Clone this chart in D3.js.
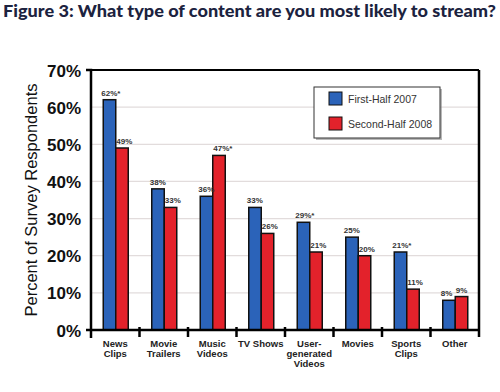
<!DOCTYPE html>
<html>
<head>
<meta charset="utf-8">
<script src="https://cdn.jsdelivr.net/npm/d3@7"></script>
<style>
  body { margin: 0; background: #fff; }
  svg { display: block; }
</style>
</head>
<body>
<div class="plot"></div>
<script>
// data
const categories = [["News", "Clips"], ["Movie", "Trailers"], ["Music", "Videos"], ["TV Shows"],
                    ["User-", "generated", "Videos"], ["Movies"], ["Sports", "Clips"], ["Other"]]
const series = ["First-Half 2007", "Second-Half 2008"]
const firstHalf2007 = [62, 38, 36, 33, 29, 25, 21, 8]
const secondHalf2008 = [49, 33, 47, 26, 21, 20, 11, 9]
const labels2007 = ["62%*", "38%", "36%", "33%", "29%*", "25%", "21%*", "8%"]
const labels2008 = ["49%", "33%", "47%*", "26%", "21%", "20%", "11%", "9%"]
const yTicks = [0, 10, 20, 30, 40, 50, 60, 70]

const W = 500, H = 392
let margin = {top: 70, right: 21, bottom: 62, left: 91},
    width = W - margin.left - margin.right,
    height = H - margin.top - margin.bottom

let colors = ["#2b63b9", "#e3222b"]

let svg = d3.select(".plot").append("svg")
  .attr("width", W)
  .attr("height", H)

// title
svg.append("text")
  .attr("x", 3)
  .attr("y", 17)
  .attr("textLength", 493)
  .attr("lengthAdjust", "spacingAndGlyphs")
  .style("font-family", "Lato, 'Open Sans', sans-serif")
  .style("font-weight", "900")
  .style("font-size", "17px")
  .style("fill", "#1c2340")
  .text("Figure 3: What type of content are you most likely to stream?")

let g = svg.append("g")
  .attr("transform", "translate(" + margin.left + "," + margin.top + ")")

let idx = d3.range(categories.length)
let xScale = d3.scaleBand().domain(idx).range([0, width])
let xInner = d3.scaleBand().domain([0, 1]).range([0, 25])
let yScale = d3.scaleLinear().domain([0, 70]).range([height, 0])

// gridlines
g.append("g")
  .selectAll("line")
  .data(yTicks.slice(1, -1))
  .join("line")
  .attr("x1", 0)
  .attr("x2", width)
  .attr("y1", d => yScale(d))
  .attr("y2", d => yScale(d))
  .style("stroke", "#e2dcdc")
  .style("stroke-width", 1.2)

// frame top & right
g.append("line")
  .attr("x1", 0).attr("x2", width).attr("y1", 0).attr("y2", 0)
  .style("stroke", "#000").style("stroke-width", 2)
g.append("line")
  .attr("x1", width).attr("x2", width).attr("y1", 0).attr("y2", height + 7)
  .style("stroke", "#000").style("stroke-width", 2.5)

// bars
let groups = g.selectAll(".grp")
  .data(idx)
  .join("g")
  .attr("class", "grp")
  .attr("transform", i => "translate(" + (xScale(i) + xScale.bandwidth() / 2 - 12) + ",0)")

let seriesData = [firstHalf2007, secondHalf2008]
let seriesLabels = [labels2007, labels2008]
;[0, 1].forEach(s => {
  groups.append("rect")
    .attr("x", xInner(s))
    .attr("y", i => yScale(seriesData[s][i]))
    .attr("width", xInner.bandwidth())
    .attr("height", i => height - yScale(seriesData[s][i]))
    .style("fill", colors[s])
    .style("stroke", "#111")
    .style("stroke-width", 1.5)
})
;[0, 1].forEach(s => {
  groups.append("text")
    .attr("x", xInner(s) + (s === 0 ? -2 : 0.5))
    .attr("y", i => yScale(seriesData[s][i]) - 4)
    .attr("text-anchor", "start")
    .style("font-family", "Arial, 'Liberation Sans', sans-serif")
    .style("font-weight", "bold")
    .style("font-size", "8px")
    .style("fill", "#333")
    .text(i => seriesLabels[s][i])
})

// y axis
let yAxis = d3.axisLeft(yScale)
  .tickValues(yTicks)
  .tickFormat(d => d + "%")
  .tickSize(0)
  .tickSizeOuter(5)
  .tickPadding(10)
let yg = g.append("g").call(yAxis)
yg.select(".domain").style("stroke", "#000").style("stroke-width", 2.5)
  .attr("d", "M-5,0H0V" + (height + 8))
yg.selectAll("text")
  .style("font-family", "Arial, 'Liberation Sans', sans-serif")
  .style("font-weight", "bold")
  .style("font-size", "17px")
  .style("fill", "#111")
  .attr("dy", "0.36em")

// x axis line + separators
g.append("line")
  .attr("x1", -5).attr("x2", width).attr("y1", height).attr("y2", height)
  .style("stroke", "#000").style("stroke-width", 2.5)
g.append("g")
  .selectAll("line")
  .data(idx.slice(1))
  .join("line")
  .attr("x1", i => xScale(i)).attr("x2", i => xScale(i))
  .attr("y1", height - 3).attr("y2", height + 7)
  .style("stroke", "#000").style("stroke-width", 2.5)

// category labels
let cl = g.append("g")
  .selectAll("text")
  .data(idx)
  .join("text")
  .attr("text-anchor", "middle")
  .attr("transform", i => "translate(" + (xScale(i) + xScale.bandwidth() / 2) + "," + (height + 17) + ")")
  .style("font-family", "Arial, 'Liberation Sans', sans-serif")
  .style("font-weight", "bold")
  .style("font-size", "9.5px")
  .style("fill", "#222")
cl.selectAll("tspan")
  .data(i => categories[i])
  .join("tspan")
  .attr("x", 0)
  .attr("dy", (d, j) => j === 0 ? 0 : 10)
  .text(d => d)

// y axis title
svg.append("text")
  .attr("transform", "translate(37,200) rotate(-90)")
  .attr("text-anchor", "middle")
  .style("font-family", "Arial, 'Liberation Sans', sans-serif")
  .style("font-size", "16.5px")
  .style("fill", "#111")
  .text("Percent of Survey Respondents")

// legend
let lg = svg.append("g").attr("transform", "translate(314,87)")
lg.append("rect")
  .attr("x", 2).attr("y", 2).attr("width", 126).attr("height", 51)
  .style("fill", "#888").style("opacity", 0.6)
lg.append("rect")
  .attr("width", 126).attr("height", 51)
  .style("fill", "#fff").style("stroke", "#333").style("stroke-width", 1)
let items = lg.selectAll(".legend")
  .data(series)
  .join("g")
  .attr("class", "legend")
  .attr("transform", (d, i) => "translate(15," + (5 + i * 25) + ")")
items.append("rect")
  .attr("width", 13).attr("height", 13)
  .style("fill", (d, i) => colors[i])
  .style("stroke", "#111").style("stroke-width", 1)
items.append("text")
  .attr("x", 19).attr("y", 7).attr("dy", "0.35em")
  .style("font-family", "Arial, 'Liberation Sans', sans-serif")
  .style("font-size", "10.5px")
  .style("fill", "#333")
  .text(d => d)
</script>
</body>
</html>
